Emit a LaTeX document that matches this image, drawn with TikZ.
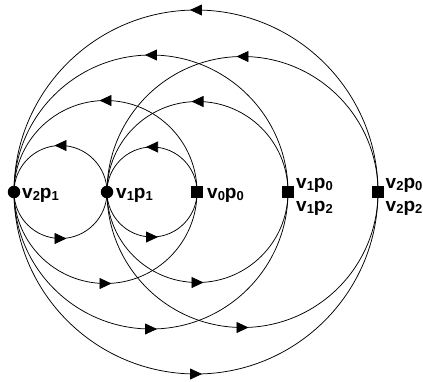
\documentclass[tikz,border=0pt]{standalone}
\usepackage{fontspec}
\setmainfont{Liberation Sans}
\usetikzlibrary{calc,arrows.meta,decorations.markings}

% subscript index in the state labels
\newcommand\idx[1]{\raisebox{-2.8pt}{\fontsize{13}{13}\selectfont #1}}

% half-circle arcs between two state nodes: upper arc runs right-to-left,
% lower arc runs left-to-right, each carrying a mid arrow
\newcommand\linkpair[2]{%
  \draw[arcpath] let \p1=(#1.center), \p2=(#2.center), \n1={0.5*(\x2-\x1)} in
    (#2.center) arc[start angle=0, end angle=180, radius=\n1];
  \draw[arcpath] let \p1=(#1.center), \p2=(#2.center), \n1={0.5*(\x2-\x1)} in
    (#1.center) arc[start angle=180, end angle=360, radius=\n1];
}

\begin{document}
\begin{tikzpicture}[x=1pt,y=1pt,
  dotnode/.style={circle, fill=black, inner sep=0pt, minimum size=12.5pt},
  sqnode/.style={rectangle, fill=black, inner sep=0pt, minimum size=12.5pt},
  lbl/.style={inner sep=0pt, font=\fontsize{19}{21}\selectfont\bfseries},
  arcpath/.style={line width=0.75pt, postaction={decorate},
    decoration={markings, mark=at position 0.5 with
      {\arrow[xshift=6pt]{Triangle[length=12pt,width=11pt]}}}}]
\useasboundingbox (0,0) rectangle (423,-381);

% states
\node[dotnode] (s21) at (14,-192) {};
\node[dotnode] (s11) at (107,-192) {};
\node[sqnode]  (s00) at (197,-192) {};
\node[sqnode]  (s10) at (288,-192) {};
\node[sqnode]  (s20) at (378,-192) {};

% labels
\node[lbl, anchor=base west] (l21) at (22,-198) {v\idx{2}p\idx{1}};
\node[lbl, anchor=base west] (l11) at (116,-198) {v\idx{1}p\idx{1}};
\node[lbl, anchor=base west] (l00) at (207,-198) {v\idx{0}p\idx{0}};
\node[lbl, anchor=base west] (l10a) at (296,-188) {v\idx{1}p\idx{0}};
\node[lbl, anchor=base west] (l10b) at (296,-211) {v\idx{1}p\idx{2}};
\node[lbl, anchor=base west] (l20a) at (385.5,-188) {v\idx{2}p\idx{0}};
\node[lbl, anchor=base west] (l20b) at (385.5,-211) {v\idx{2}p\idx{2}};

% transitions
\linkpair{s21}{s11}
\linkpair{s11}{s00}
\linkpair{s21}{s00}
\linkpair{s11}{s10}
\linkpair{s21}{s10}
\linkpair{s11}{s20}
\linkpair{s21}{s20}
\end{tikzpicture}
\end{document}
